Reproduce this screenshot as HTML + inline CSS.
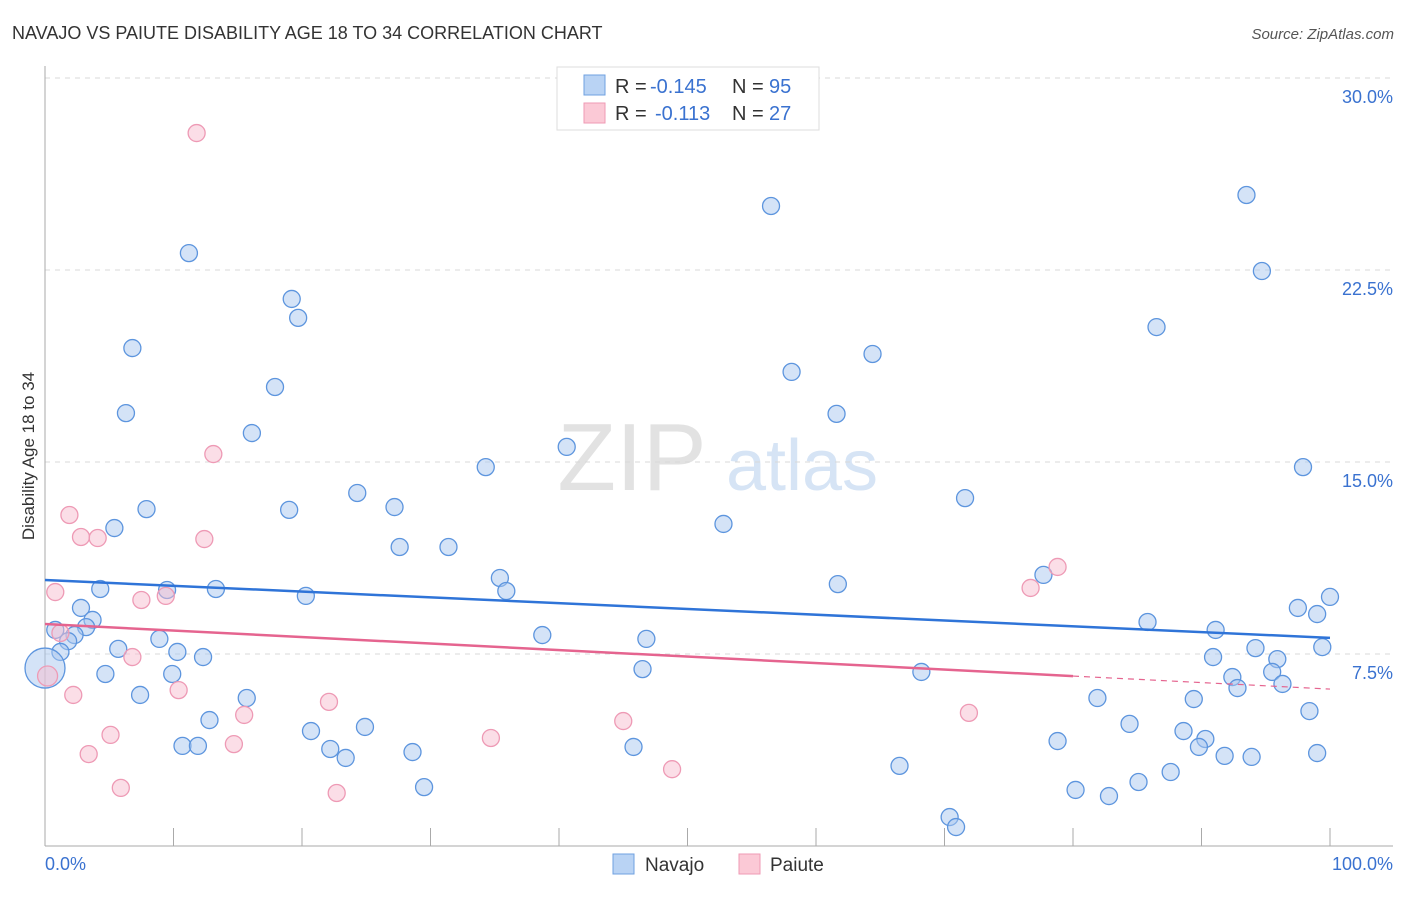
<!DOCTYPE html>
<html><head><meta charset="utf-8">
<style>
body{margin:0;background:#fff;width:1406px;height:892px;overflow:hidden;font-family:"Liberation Sans",sans-serif;}
svg text{font-family:"Liberation Sans",sans-serif;}
</style></head>
<body>
<svg id="chart" width="1406" height="892">
<text x="12" y="39" font-size="18" fill="#333">NAVAJO VS PAIUTE DISABILITY AGE 18 TO 34 CORRELATION CHART</text>
<text x="1394" y="39" font-size="15" fill="#555" font-style="italic" text-anchor="end">Source: ZipAtlas.com</text>
<text x="34" y="456" font-size="17" fill="#333" text-anchor="middle" transform="rotate(-90 34 456)">Disability Age 18 to 34</text>
<g>
<text x="632" y="490" font-size="96" fill="#e2e2e2" text-anchor="middle" font-family="Liberation Serif,serif">ZIP</text>
<text x="802" y="490" font-size="72" fill="#d6e4f5" text-anchor="middle">atlas</text>
</g>
<g id="grid"></g>
<g id="points"></g>
<g id="lines"></g>
<g>
<rect x="557" y="67" width="262" height="63" fill="#fff" stroke="#ddd"/>
<rect x="584" y="75" width="21" height="20" fill="#b9d3f4" stroke="#6fa0e0"/>
<text x="615" y="93" font-size="20" fill="#333">R = </text>
<text x="650" y="93" font-size="20" fill="#3a72d0">-0.145</text>
<text x="732" y="93" font-size="20" fill="#333">N = </text>
<text x="769" y="93" font-size="20" fill="#3a72d0">95</text>
<rect x="584" y="103" width="21" height="20" fill="#fbc9d6" stroke="#ef9ab4"/>
<text x="615" y="120" font-size="20" fill="#333">R = </text>
<text x="655" y="120" font-size="20" fill="#3a72d0">-0.113</text>
<text x="732" y="120" font-size="20" fill="#333">N = </text>
<text x="769" y="120" font-size="20" fill="#3a72d0">27</text>
</g>
<g>
<rect x="613" y="854" width="21" height="20" fill="#b9d3f4" stroke="#6fa0e0"/>
<text x="645" y="871" font-size="19" fill="#333">Navajo</text>
<rect x="739" y="854" width="21" height="20" fill="#fbc9d6" stroke="#ef9ab4"/>
<text x="770" y="871" font-size="19" fill="#333">Paiute</text>
</g>
</svg>
<script>
const yTicks=[7.5,15,22.5,30];
const xTickLabels=["0.0%","100.0%"];
const navajoX=[11.2,56.5,93.5,94.7,19.2,19.7,6.8,86.5,64.4,58.1,17.9,6.3,61.6,16.1,40.6,34.3,97.9,24.3,71.6,7.9,19.0,27.2,52.8,5.4,27.6,31.4,35.4,77.7,61.7,4.3,9.5,13.3,35.9,20.3,100,2.8,97.5,99.0,3.7,3.2,0.8,85.8,91.1,2.3,38.7,8.9,46.8,1.8,99.4,5.7,1.2,10.3,12.3,90.9,95.9,94.2,46.5,68.2,4.7,9.9,92.4,95.5,92.8,96.3,7.4,15.7,81.9,89.4,98.4,12.8,84.4,24.9,20.7,88.6,78.8,90.3,10.7,11.9,22.2,45.8,89.8,28.6,23.4,91.8,93.9,99.0,66.5,87.6,85.1,29.5,80.2,82.8,70.4,70.9,0];
const navajoY=[23.16,25.0,25.43,22.46,21.37,20.63,19.45,20.27,19.22,18.52,17.93,16.91,16.88,16.13,15.59,14.8,14.8,13.79,13.59,13.16,13.13,13.24,12.58,12.42,11.68,11.68,10.47,10.59,10.23,10.04,10.0,10.04,9.96,9.77,9.73,9.3,9.3,9.06,8.83,8.55,8.44,8.75,8.44,8.24,8.24,8.09,8.09,8.0,7.77,7.7,7.58,7.58,7.38,7.38,7.3,7.73,6.91,6.8,6.72,6.72,6.6,6.8,6.17,6.33,5.9,5.78,5.78,5.74,5.27,4.92,4.77,4.65,4.49,4.49,4.1,4.18,3.91,3.91,3.79,3.87,3.87,3.67,3.44,3.52,3.48,3.63,3.13,2.89,2.5,2.3,2.19,1.95,1.13,0.74,6.95];
const navajoBig=[94];
const paiuteX=[11.8,13.1,1.9,2.8,4.1,12.4,78.8,76.7,0.8,7.5,9.4,1.2,6.8,0.2,10.4,2.2,22.1,15.5,71.9,45.0,5.1,34.7,14.7,3.4,48.8,5.9,22.7];
const paiuteY=[27.85,15.31,12.93,12.07,12.03,11.99,10.9,10.08,9.92,9.61,9.77,8.32,7.38,6.64,6.09,5.9,5.63,5.12,5.2,4.88,4.34,4.22,3.98,3.59,3.0,2.27,2.07];
const navajoTrend=[10.39,8.13];
const paiuteTrend=[8.67,6.13];
const paiuteSolidEnd=80;

const X0=45,X1=1330,Y0=846,YPER=25.6;
const sx=v=>X0+(X1-X0)*v/100;
const sy=v=>Y0-v*YPER;
const NS="http://www.w3.org/2000/svg";
function mk(tag,attrs,parent){const e=document.createElementNS(NS,tag);for(const k in attrs)e.setAttribute(k,attrs[k]);parent.appendChild(e);return e;}
const grid=document.getElementById('grid');
yTicks.forEach((t,i)=>{
 const l=mk('line',{x1:45,x2:1393,y1:sy(t),y2:sy(t),stroke:'#d8d8d8','stroke-dasharray':'5,5'},grid);
 
 
 const tx=mk('text',{x:1393,y:sy(t)+25,'font-size':18,fill:'#3a72d0','text-anchor':'end'},grid);
 tx.textContent=t.toFixed(1)+'%';
 
 
});
const ax=mk('line',{x1:45,x2:45,y1:66,y2:846,stroke:'#aaa'},grid);


const bx=mk('line',{x1:45,x2:1393,y1:846,y2:846,stroke:'#aaa'},grid);


for(let i=0;i<=10;i++){
 const t=mk('line',{x1:sx(i*10),x2:sx(i*10),y1:828,y2:846,stroke:'#aaa'},grid);
 
 
}
[[0,'start',45],[100,'end',1393]].forEach((d,i)=>{
 const tx=mk('text',{x:d[2],y:870,'font-size':18,fill:'#3a72d0','text-anchor':d[1]},grid);
 tx.textContent=xTickLabels[i];
 
 
});
const pts=document.getElementById('points');
navajoX.forEach((v,i)=>{
 const c=mk('circle',{cx:sx(v),cy:sy(navajoY[i]),r:navajoBig.includes(i)?20:8.5,fill:'rgba(170,200,240,0.5)',stroke:'#5d95de','stroke-width':1.3},pts);
 
 
});
paiuteX.forEach((v,i)=>{
 const c=mk('circle',{cx:sx(v),cy:sy(paiuteY[i]),r:i==13?10:8.5,fill:'rgba(248,190,208,0.5)',stroke:'#ee9ab5','stroke-width':1.3},pts);
 
 
});
const ln=document.getElementById('lines');
const bl=mk('line',{x1:sx(0),y1:sy(navajoTrend[0]),x2:sx(100),y2:sy(navajoTrend[1]),stroke:'#2f74d8','stroke-width':2.5},ln);


const pm=paiuteTrend[0]+(paiuteTrend[1]-paiuteTrend[0])*paiuteSolidEnd/100;
const pl=mk('line',{x1:sx(0),y1:sy(paiuteTrend[0]),x2:sx(paiuteSolidEnd),y2:sy(pm),stroke:'#e5648f','stroke-width':2.5},ln);


const pd=mk('line',{x1:sx(paiuteSolidEnd),y1:sy(pm),x2:sx(100),y2:sy(paiuteTrend[1]),stroke:'#e5648f','stroke-width':1.2,'stroke-dasharray':'6,5'},ln);


</script>
</body></html>
